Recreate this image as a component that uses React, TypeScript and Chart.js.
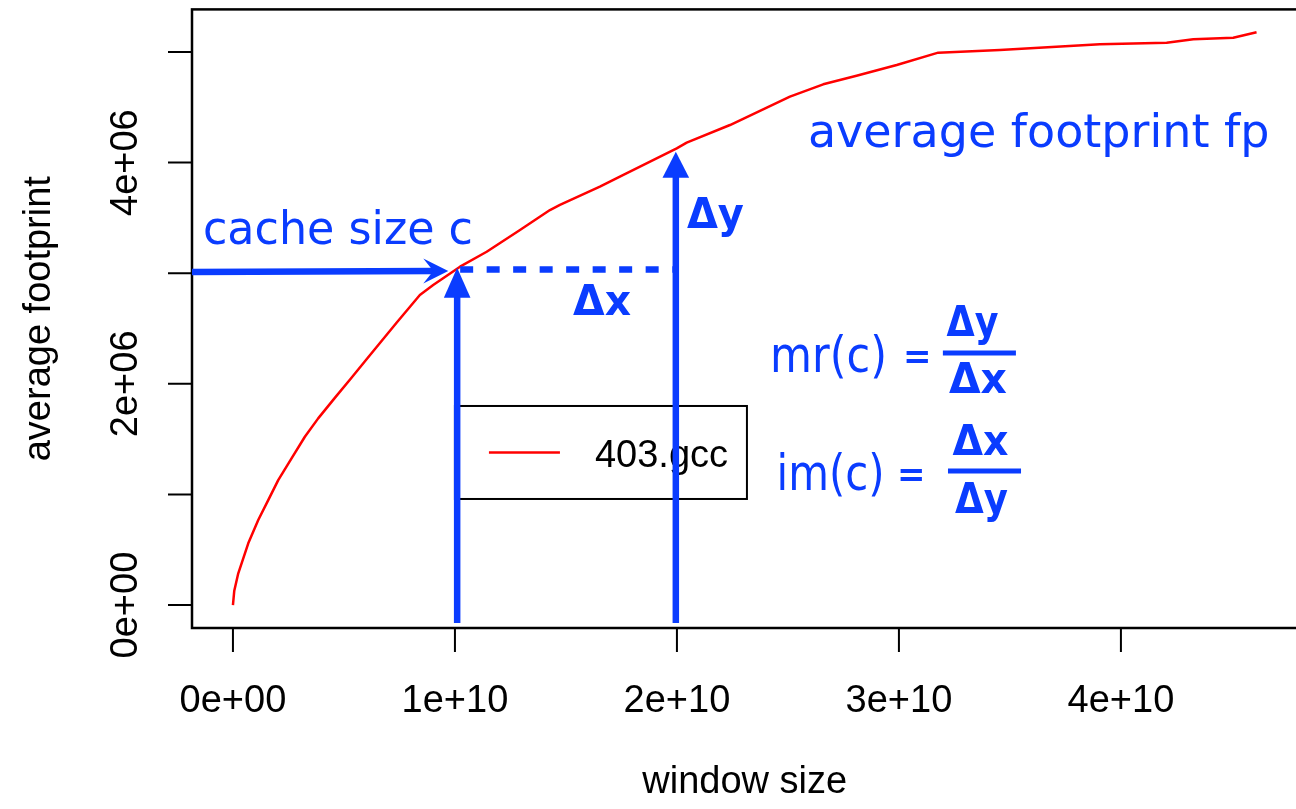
import React, { useEffect, useRef } from "react";
import { Chart, registerables } from "chart.js";

Chart.register(...registerables);

// ---------- data ----------
const seriesLabel = "403.gcc";
const windowSize = [
  0, 0.006e10, 0.024e10, 0.069e10, 0.114e10, 0.159e10, 0.204e10, 0.264e10, 0.324e10, 0.384e10,
  0.459e10, 0.535e10, 0.602e10, 0.737e10, 0.842e10, 0.902e10, 1.023e10, 1.143e10, 1.293e10,
  1.428e10, 1.473e10, 1.653e10, 1.743e10, 1.999e10, 2.044e10, 2.239e10, 2.509e10, 2.659e10, 2.809e10,
  2.99e10, 3.177e10, 3.455e10, 3.905e10, 4.206e10, 4.326e10, 4.506e10, 4.611e10,
];
const avgFootprint = [
  0, 0.13e6, 0.287e6, 0.558e6, 0.769e6, 0.949e6, 1.13e6, 1.326e6, 1.522e6, 1.688e6,
  1.873e6, 2.057e6, 2.222e6, 2.553e6, 2.803e6, 2.893e6, 3.059e6, 3.194e6, 3.391e6,
  3.571e6, 3.617e6, 3.782e6, 3.873e6, 4.129e6, 4.18e6, 4.34e6, 4.596e6, 4.708e6, 4.786e6,
  4.882e6, 4.994e6, 5.018e6, 5.07e6, 5.084e6, 5.115e6, 5.129e6, 5.178e6,
];

const xTicks = [0, 1e10, 2e10, 3e10, 4e10];
const xTickLabels = ["0e+00", "1e+10", "2e+10", "3e+10", "4e+10"];
const yTicks = [0, 1e6, 2e6, 3e6, 4e6, 5e6];
const yTickLabels = ["0e+00", "", "2e+06", "", "4e+06", ""];
const xTitle = "window size";
const yTitle = "average footprint";

// annotation anchors (data space)
const cacheSize = 1.01e10;
const fpAtCache = 3.02e6;
const cacheArrowTipX = 0.97e10;
const cacheVertTipY = 3.05e6;
const deltaEndX = 1.995e10;
const fpAtDeltaEnd = 4.099e6;
const arrowBottomY = -0.163e6;
const legendAnchor = { x: 1.0e10, y: 1.8e6 };

// ---------- styling ----------
const BLUE = "#0a3cff";
const RED = "#ff0000";
const AXIS_FONT = '38px "Liberation Sans", Arial, sans-serif';
const HAND = '"DejaVu Sans", sans-serif';

// R-like 4% range extension
const xr = [Math.min(...windowSize), Math.max(...windowSize)];
const yr = [Math.min(...avgFootprint), Math.max(...avgFootprint)];
const xPad = (xr[1] - xr[0]) * 0.04;
const yPad = (yr[1] - yr[0]) * 0.04;

const overlay = {
  id: "rOverlay",
  beforeDatasetsDraw(chart: any) {
    const { ctx, chartArea: a } = chart;
    const xs = chart.scales.x;
    const ys = chart.scales.y;
    ctx.save();
    ctx.strokeStyle = "#000";
    ctx.lineWidth = 2.5;
    ctx.strokeRect(a.left, a.top, a.right - a.left, a.bottom - a.top);
    ctx.lineWidth = 2;
    ctx.beginPath();
    xTicks.forEach((v) => {
      const px = xs.getPixelForValue(v);
      ctx.moveTo(px, a.bottom);
      ctx.lineTo(px, a.bottom + 24);
    });
    yTicks.forEach((v) => {
      const py = ys.getPixelForValue(v);
      ctx.moveTo(a.left, py);
      ctx.lineTo(a.left - 24, py);
    });
    ctx.stroke();

    ctx.fillStyle = "#000";
    ctx.font = AXIS_FONT;
    ctx.textAlign = "center";
    ctx.textBaseline = "alphabetic";
    xTicks.forEach((v, i) => {
      ctx.fillText(xTickLabels[i], xs.getPixelForValue(v), a.bottom + 84);
    });
    ctx.fillText(xTitle, (a.left + a.right) / 2, a.bottom + 165);
    yTicks.forEach((v, i) => {
      if (!yTickLabels[i]) return;
      ctx.save();
      ctx.translate(a.left - 55.3, ys.getPixelForValue(v));
      ctx.rotate(-Math.PI / 2);
      ctx.fillText(yTickLabels[i], 0, 0);
      ctx.restore();
    });
    ctx.save();
    ctx.translate(50, (a.top + a.bottom) / 2);
    ctx.rotate(-Math.PI / 2);
    ctx.fillText(yTitle, 0, 0);
    ctx.restore();
    ctx.restore();
  },
  afterDatasetsDraw(chart: any) {
    const { ctx } = chart;
    const xs = chart.scales.x;
    const ys = chart.scales.y;
    const X = (v: number) => xs.getPixelForValue(v);
    const Y = (v: number) => ys.getPixelForValue(v);
    const ds = chart.data.datasets[0];

    // legend
    ctx.save();
    const lx = X(legendAnchor.x);
    const ly = Y(legendAnchor.y);
    const lw = 292;
    const lh = 93;
    ctx.fillStyle = "#fff";
    ctx.fillRect(lx, ly, lw, lh);
    ctx.strokeStyle = "#000";
    ctx.lineWidth = 2;
    ctx.strokeRect(lx, ly, lw, lh);
    ctx.strokeStyle = ds.borderColor;
    ctx.lineWidth = 2.5;
    ctx.beginPath();
    ctx.moveTo(lx + 34, ly + 46.5);
    ctx.lineTo(lx + 105, ly + 46.5);
    ctx.stroke();
    ctx.fillStyle = "#000";
    ctx.font = AXIS_FONT;
    ctx.textAlign = "left";
    ctx.textBaseline = "alphabetic";
    ctx.fillText(ds.label, lx + 140, ly + 61.5);
    ctx.restore();

    // blue annotations
    ctx.save();
    ctx.strokeStyle = BLUE;
    ctx.fillStyle = BLUE;
    ctx.lineCap = "butt";
    ctx.lineWidth = 6.5;

    // horizontal arrow (cache size c)
    const hy = Y(fpAtCache);
    const hTip = X(cacheArrowTipX);
    ctx.beginPath();
    ctx.moveTo(chart.chartArea.left, hy + 1);
    ctx.lineTo(hTip - 14, hy);
    ctx.stroke();
    ctx.beginPath();
    ctx.moveTo(hTip, hy);
    ctx.lineTo(hTip - 25, hy - 12.5);
    ctx.lineTo(hTip - 15, hy);
    ctx.lineTo(hTip - 25, hy + 12.5);
    ctx.closePath();
    ctx.fill();

    const vArrow = (xv: number, tipY: number, len: number) => {
      const x = X(xv);
      const ty = Y(tipY);
      ctx.beginPath();
      ctx.moveTo(x, Y(arrowBottomY));
      ctx.lineTo(x, ty + len - 1);
      ctx.stroke();
      ctx.beginPath();
      ctx.moveTo(x, ty);
      ctx.lineTo(x - 13.3, ty + len);
      ctx.lineTo(x + 13.3, ty + len);
      ctx.closePath();
      ctx.fill();
    };
    vArrow(cacheSize, cacheVertTipY, 30);
    vArrow(deltaEndX, fpAtDeltaEnd, 26);

    // dashed Δx segment
    ctx.setLineDash([13, 13.5]);
    ctx.beginPath();
    ctx.moveTo(X(cacheSize) + 3, hy - 1.5);
    ctx.lineTo(X(deltaEndX) - 3, hy - 1.5);
    ctx.stroke();
    ctx.setLineDash([]);

    // texts
    ctx.textBaseline = "alphabetic";
    ctx.textAlign = "left";
    ctx.font = `46px ${HAND}`;
    ctx.fillText("cache size c", X(-0.135e10), Y(3.264e6), 270);
    ctx.fillText("average footprint fp", X(2.59e10), Y(4.144e6), 464);

    ctx.font = `bold 42px ${HAND}`;
    ctx.fillText("\u0394y", X(2.045e10), Y(3.406e6), 57);
    ctx.fillText("\u0394x", X(1.532e10), Y(2.622e6), 58);

    ctx.font = `50px ${HAND}`;
    ctx.fillText("mr(c)", X(2.419e10), Y(2.109e6), 117);
    ctx.fillText("im(c)", X(2.449e10), Y(1.04e6), 108);
    ctx.font = `bold 34px ${HAND}`;
    ctx.textAlign = "center";
    ctx.fillText("=", X(3.083e10), Y(2.109e6) - 4);
    ctx.fillText("=", X(3.056e10), Y(1.04e6) - 4);

    // fractions
    ctx.lineWidth = 5;
    ctx.beginPath();
    ctx.moveTo(X(3.198e10), Y(2.278e6));
    ctx.lineTo(X(3.527e10), Y(2.278e6));
    ctx.moveTo(X(3.221e10), Y(1.212e6));
    ctx.lineTo(X(3.55e10), Y(1.212e6));
    ctx.stroke();
    ctx.font = `bold 42px ${HAND}`;
    ctx.fillText("\u0394y", X(3.331e10), Y(2.432e6), 52);
    ctx.fillText("\u0394x", X(3.356e10), Y(1.914e6), 58);
    ctx.fillText("\u0394x", X(3.367e10), Y(1.356e6), 56);
    ctx.fillText("\u0394y", X(3.372e10), Y(0.829e6), 53);
    ctx.restore();
  },
};

export default function App() {
  const ref = useRef<HTMLCanvasElement | null>(null);
  useEffect(() => {
    if (!ref.current) return;
    const chart = new Chart(ref.current, {
      type: "line",
      data: {
        datasets: [
          {
            label: seriesLabel,
            data: windowSize.map((x, i) => ({ x, y: avgFootprint[i] })),
            borderColor: RED,
            borderWidth: 2.5,
            pointRadius: 0,
            fill: false,
            tension: 0,
            borderJoinStyle: "round",
          },
        ],
      },
      options: {
        animation: false,
        responsive: false,
        devicePixelRatio: 1,
        events: [],
        layout: { padding: { left: 192, top: 9.4, right: 0.5, bottom: 181 } },
        scales: {
          x: { type: "linear", display: false, min: xr[0] - xPad, max: xr[1] + xPad },
          y: { type: "linear", display: false, min: yr[0] - yPad, max: yr[1] + yPad },
        },
        plugins: { legend: { display: false }, tooltip: { enabled: false } },
      },
      plugins: [overlay],
    } as any);
    return () => chart.destroy();
  }, []);
  return (
    <div
      style={{
        position: "absolute",
        left: 0,
        top: 0,
        width: 1296,
        height: 809,
        overflow: "hidden",
        background: "#fff",
      }}
    >
      <canvas ref={ref} width={1298} height={809} style={{ width: 1298, height: 809, display: "block" }} />
    </div>
  );
}
